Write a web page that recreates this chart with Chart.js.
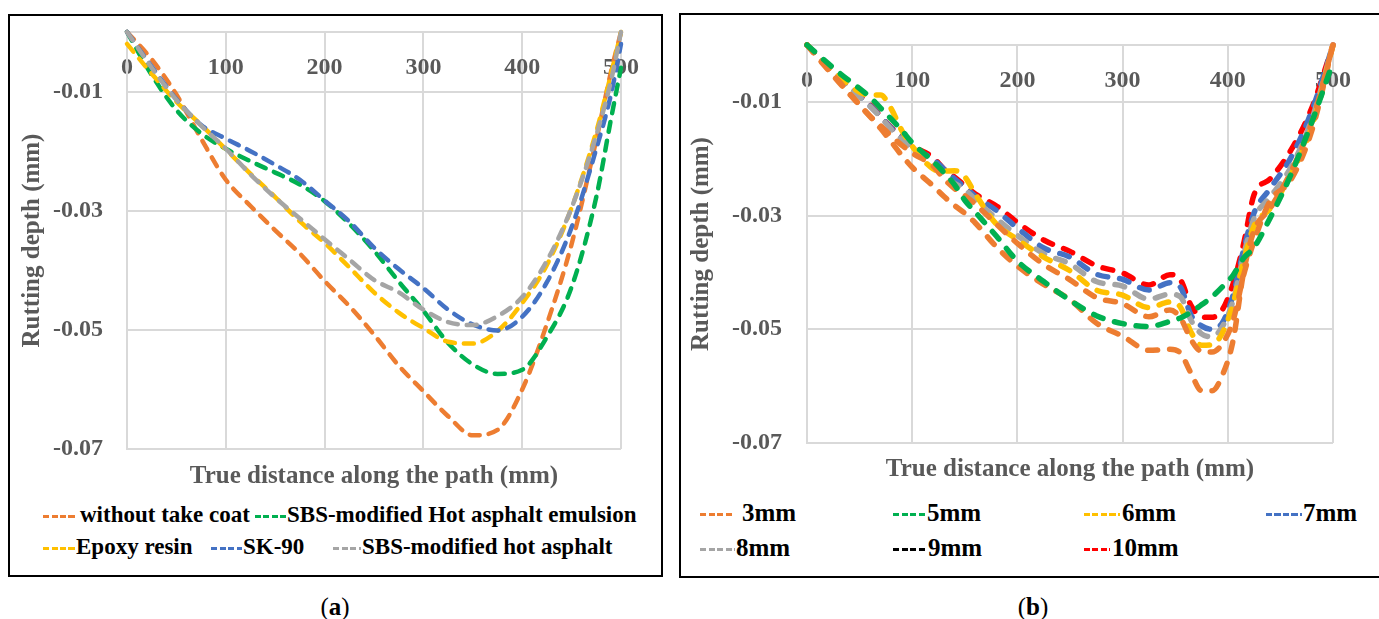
<!DOCTYPE html>
<html>
<head>
<meta charset="utf-8">
<script src="https://cdn.jsdelivr.net/npm/chart.js@4/dist/chart.umd.min.js"></script>
<style>
  body { margin: 0; width: 1379px; height: 619px; overflow: hidden; background: #fff; position: relative; font-family: 'Liberation Serif', serif; }
  .box { position: absolute; border: 2px solid #000; box-sizing: border-box; }
  canvas { position: absolute; }
  .leg { position: absolute; font-weight: bold; color: #000; white-space: nowrap; }
  .mark { position: absolute; height: 3px; }
  .cap { position: absolute; font-size: 25px; line-height: 30px; color: #000; transform: translateX(-50%); }
</style>
</head>
<body>
<div class="box" style="left:8px;top:14px;width:655px;height:563px"></div>
<div class="box" style="left:679px;top:13px;width:720px;height:565px"></div>
<canvas id="chartA" width="650" height="480" style="left:10px;top:16px"></canvas>
<canvas id="chartB" width="690" height="480" style="left:682px;top:16px"></canvas>
<div id="legendA"></div>
<div id="legendB"></div>
<div class="cap" style="left:335px;top:592px">(<b>a</b>)</div>
<div class="cap" style="left:1033px;top:592px">(<b>b</b>)</div>
<script>
// x positions (mm) and rutting depth (mm)
const xA = [0, 25, 50, 75, 100, 125, 150, 175, 200, 225, 250, 275, 300, 325, 350, 375, 400, 425, 450, 475, 490, 500];
const withoutTack = [0, -0.0046, -0.0105, -0.0179, -0.0248, -0.0292, -0.0333, -0.0372, -0.0418, -0.046, -0.0508, -0.056, -0.0603, -0.0645, -0.0677, -0.0668, -0.060, -0.049, -0.0356, -0.0181, -0.0066, 0];
const sbsEmulsion = [0, -0.0072, -0.0131, -0.017, -0.0196, -0.0217, -0.0236, -0.0256, -0.0284, -0.0322, -0.0367, -0.0419, -0.0468, -0.0522, -0.0558, -0.0574, -0.0567, -0.0512, -0.0428, -0.0277, -0.0145, -0.006];
const epoxyResin = [-0.002, -0.007, -0.0117, -0.0156, -0.0197, -0.0238, -0.0277, -0.0318, -0.0354, -0.0395, -0.0437, -0.0471, -0.0497, -0.052, -0.0523, -0.0502, -0.0455, -0.0391, -0.0295, -0.0167, -0.007, 0];
const sk90 = [0, -0.0058, -0.0113, -0.0156, -0.0179, -0.020, -0.0223, -0.0248, -0.0283, -0.0318, -0.0362, -0.0398, -0.043, -0.0466, -0.0491, -0.0501, -0.0478, -0.042, -0.0328, -0.0196, -0.0104, -0.002];
const sbsHot = [0, -0.006, -0.0114, -0.0157, -0.0196, -0.0239, -0.0278, -0.0313, -0.0348, -0.0382, -0.0416, -0.0437, -0.0466, -0.0487, -0.0492, -0.0477, -0.0445, -0.0384, -0.0295, -0.0173, -0.0081, 0];

const xB = [0, 30, 60, 70, 80, 90, 100, 120, 130, 140, 150, 160, 180, 200, 225, 250, 275, 300, 325, 345, 355, 365, 375, 385, 395, 405, 415, 425, 440, 460, 480, 500];
const mm3 = [0, -0.0065, -0.0126, -0.0147, -0.017, -0.0194, -0.0215, -0.0248, -0.0266, -0.0282, -0.0296, -0.0313, -0.0355, -0.0389, -0.0421, -0.0448, -0.0489, -0.0512, -0.0537, -0.0535, -0.0542, -0.0577, -0.0608, -0.0608, -0.058, -0.052, -0.040, -0.0326, -0.0288, -0.0223, -0.0135, 0];
const mm5 = [0, -0.0048, -0.0092, -0.0111, -0.013, -0.015, -0.0172, -0.0205, -0.0224, -0.0245, -0.0273, -0.0294, -0.0336, -0.038, -0.0416, -0.0449, -0.0476, -0.049, -0.0495, -0.0486, -0.048, -0.047, -0.0457, -0.0443, -0.0425, -0.0405, -0.0375, -0.0356, -0.0305, -0.0228, -0.0135, -0.003];
const mm6 = [0, -0.0055, -0.0088, -0.0088, -0.0112, -0.015, -0.0178, -0.0218, -0.0222, -0.0221, -0.0232, -0.0262, -0.0315, -0.0342, -0.0373, -0.0397, -0.0431, -0.044, -0.0462, -0.0452, -0.0461, -0.0505, -0.0528, -0.0527, -0.0506, -0.0455, -0.038, -0.0318, -0.0288, -0.0228, -0.0143, 0];
const mm7 = [0, -0.0057, -0.0107, -0.0126, -0.0146, -0.0162, -0.018, -0.0201, -0.0218, -0.0235, -0.025, -0.0266, -0.0291, -0.0322, -0.0357, -0.0373, -0.0403, -0.0412, -0.0431, -0.0418, -0.0426, -0.0475, -0.0494, -0.05, -0.0488, -0.044, -0.036, -0.0295, -0.0253, -0.0198, -0.0115, 0];
const mm8 = [0, -0.0058, -0.0108, -0.0127, -0.0148, -0.0166, -0.0182, -0.0205, -0.0228, -0.0243, -0.0254, -0.0272, -0.0305, -0.0335, -0.0367, -0.0385, -0.0416, -0.0424, -0.0447, -0.0438, -0.0443, -0.0484, -0.0508, -0.0513, -0.0495, -0.045, -0.037, -0.0305, -0.0268, -0.0215, -0.013, 0];
const mm9 = [0, -0.0063, -0.0125, -0.0142, -0.016, -0.0176, -0.019, -0.0213, -0.0235, -0.0252, -0.0265, -0.028, -0.0315, -0.0349, -0.0386, -0.0413, -0.0444, -0.0455, -0.0478, -0.0466, -0.048, -0.0518, -0.0539, -0.054, -0.0525, -0.0485, -0.0405, -0.0345, -0.0275, -0.0237, -0.015, 0];
const mm10 = [0, -0.0056, -0.0105, -0.0125, -0.0145, -0.016, -0.0177, -0.0198, -0.0218, -0.0232, -0.0247, -0.0262, -0.0283, -0.0312, -0.0343, -0.0363, -0.0388, -0.0401, -0.0422, -0.0404, -0.0413, -0.0458, -0.0478, -0.0479, -0.0465, -0.042, -0.035, -0.0263, -0.0236, -0.0185, -0.011, 0];

const xTicks = [0, 100, 200, 300, 400, 500];
const yTicks = [-0.07, -0.05, -0.03, -0.01, 0];

const labelsA = ['without take coat', 'SBS-modified Hot asphalt emulsion', 'Epoxy resin', 'SK-90', 'SBS-modified hot asphalt'];
const seriesA = [withoutTack, sbsEmulsion, epoxyResin, sk90, sbsHot];
const labelsB = ['3mm', '5mm', '6mm', '7mm', '8mm', '9mm', '10mm'];
const seriesB = [mm3, mm5, mm6, mm7, mm8, mm9, mm10];

const ORANGE = '#ED7D31', GREEN = '#00B050', YELLOW = '#FFC000', BLUE = '#4472C4', GRAY = '#A5A5A5', RED = '#FF0000';
const colorsA = [ORANGE, GREEN, YELLOW, BLUE, GRAY];
const colorsB = [ORANGE, GREEN, YELLOW, BLUE, GRAY, ORANGE, RED];
const legendColorsB = [ORANGE, GREEN, YELLOW, BLUE, GRAY, '#000000', RED];
// lower order = drawn on top
const drawOrderA = [5, 4, 3, 2, 1];
const drawOrderB = [2, 1, 4, 6, 5, 3, 7];

const AXIS_GRAY = '#595959';
const GRID = '#d9d9d9';
const FONT = "'Liberation Serif', serif";

function makeDatasets(xs, series, labels, colors, orders, width, dash) {
  return series.map((vals, i) => ({
    label: labels[i],
    data: xs.map((x, j) => ({ x: x, y: vals[j] })),
    borderColor: colors[i],
    backgroundColor: colors[i],
    borderWidth: width,
    borderDash: dash,
    borderCapStyle: 'round',
    pointRadius: 0,
    cubicInterpolationMode: 'monotone',
    fill: false,
    clip: 8,
    order: orders[i],
  }));
}

function makeOptions(lay) {
  return {
    responsive: false,
    animation: false,
    layout: { padding: { top: lay.top, right: lay.right, left: 0, bottom: 0 } },
    plugins: { legend: { display: false }, tooltip: { enabled: false } },
    scales: {
      x: {
        type: 'linear', min: 0, max: 500,
        position: { y: 0 },
        afterBuildTicks: s => { s.ticks = xTicks.map(v => ({ value: v })); },
        ticks: { color: AXIS_GRAY, font: { family: FONT, size: 24, weight: 'bold' }, padding: lay.xPad },
        grid: { color: GRID, lineWidth: 2, drawTicks: false },
        border: { color: GRID, width: 2 },
      },
      xt: {
        type: 'linear', axis: 'x', position: 'bottom', min: 0, max: 500,
        afterFit: s => { s.height = lay.bottomH; },
        ticks: { display: false },
        grid: { display: false, drawTicks: false },
        border: { display: false },
        title: { display: true, text: 'True distance along the path (mm)', color: AXIS_GRAY,
                 font: { family: FONT, size: 25, weight: 'bold' }, padding: { top: 0, bottom: lay.titlePad } },
      },
      y: {
        min: -0.07, max: 0,
        afterBuildTicks: s => { s.ticks = yTicks.map(v => ({ value: v })); },
        afterFit: s => { s.width = lay.leftW; s.paddingTop = 0; s.paddingBottom = 0; },
        ticks: {
          color: AXIS_GRAY, font: { family: FONT, size: 24, weight: 'bold' }, padding: lay.yPad,
          callback: v => (v === 0 ? '' : v.toFixed(2)),
        },
        grid: { color: GRID, lineWidth: 2, drawTicks: false },
        border: { color: GRID, width: 2 },
        title: { display: true, text: 'Rutting depth (mm)', color: AXIS_GRAY,
                 font: { family: FONT, size: 25, weight: 'bold' }, padding: { top: lay.yTitlePad, bottom: 0 } },
      },
    },
  };
}

new Chart(document.getElementById('chartA'), {
  type: 'line',
  data: { datasets: makeDatasets(xA, seriesA, labelsA, colorsA, drawOrderA, 4.5, [10, 9]) },
  options: makeOptions({ top: 16, right: 33, leftW: 117, bottomH: 47, xPad: 21, yPad: 24, titlePad: 4, yTitlePad: 8 }),
});

new Chart(document.getElementById('chartB'), {
  type: 'line',
  data: { datasets: makeDatasets(xB, seriesB, labelsB, colorsB, drawOrderB, 5.5, [10, 12]) },
  options: makeOptions({ top: 29, right: 19, leftW: 125, bottomH: 53, xPad: 21, yPad: 25, titlePad: 11, yTitlePad: 5 }),
});

// legends (placement follows the figure)
function buildLegend(el, labels, colors, places, size) {
  labels.forEach((lab, i) => {
    const p = places[i];
    const m = document.createElement('div');
    m.className = 'mark';
    m.style.left = p.m + 'px';
    m.style.top = (p.y - 1) + 'px';
    m.style.width = p.w + 'px';
    m.style.background = `repeating-linear-gradient(90deg, ${colors[i]} 0 6px, transparent 6px 8.5px)`;
    el.appendChild(m);
    const t = document.createElement('div');
    t.className = 'leg';
    t.style.left = p.t + 'px';
    t.style.top = (p.y - 16) + 'px';
    t.style.fontSize = size + 'px';
    t.style.lineHeight = '30px';
    t.textContent = lab;
    el.appendChild(t);
  });
}

buildLegend(document.getElementById('legendA'), labelsA, colorsA, [
  { m: 43, w: 32, t: 80, y: 516 },
  { m: 255, w: 31, t: 287, y: 516 },
  { m: 43, w: 32, t: 76, y: 548 },
  { m: 211, w: 31, t: 243, y: 548 },
  { m: 333, w: 28, t: 362, y: 548 },
], 23);

buildLegend(document.getElementById('legendB'), labelsB, legendColorsB, [
  { m: 700, w: 34, t: 742, y: 514 },
  { m: 893, w: 33, t: 927, y: 514 },
  { m: 1084, w: 36, t: 1122, y: 514 },
  { m: 1266, w: 36, t: 1303, y: 514 },
  { m: 700, w: 35, t: 736, y: 549 },
  { m: 893, w: 34, t: 928, y: 549 },
  { m: 1084, w: 26, t: 1112, y: 549 },
], 25);
</script>
</body>
</html>
